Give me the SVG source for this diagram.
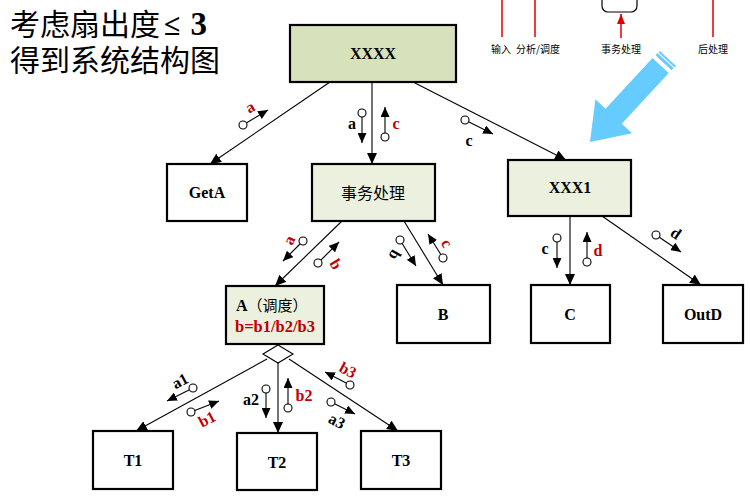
<svg xmlns="http://www.w3.org/2000/svg" width="750" height="497" viewBox="0 0 750 497">
<style>
.box{stroke:#000;stroke-width:2.2}
.w{fill:#fff}
.g1{fill:#d7e2bd}
.g2{fill:#ebf1de}
.nt{font-family:"Liberation Serif",serif;font-weight:bold;font-size:16px;text-anchor:middle;fill:#000}
.cj{font-family:"Noto Sans CJK SC",sans-serif;font-size:16px;text-anchor:middle;fill:#000}
.con{stroke:#000;stroke-width:1.1;fill:none;marker-end:url(#ah)}
.ann{stroke:#000;stroke-width:1.1;fill:none;marker-end:url(#sa)}
.cir{fill:#fff;stroke:#000;stroke-width:1.1}
.lb{font-family:"Liberation Serif",serif;font-weight:bold;font-size:16px;text-anchor:middle;dominant-baseline:central}
.r{fill:#c00000}
.k{fill:#000}
.top{font-family:"Noto Sans CJK SC",sans-serif;font-size:10px;text-anchor:middle;fill:#000}
</style>
<defs>
<marker id="ah" markerUnits="userSpaceOnUse" markerWidth="12" markerHeight="10" refX="11" refY="5" orient="auto"><path d="M0,0 L11,5 L0,10 z" fill="#000"/></marker>
<marker id="sa" markerUnits="userSpaceOnUse" markerWidth="11" markerHeight="9" refX="10" refY="4.5" orient="auto"><path d="M0,0 L10,4.5 L0,9 z" fill="#000"/></marker>
<marker id="ra" markerUnits="userSpaceOnUse" markerWidth="8" markerHeight="10" refX="4" refY="0" orient="0"><path d="M0,10 L4,0 L8,10 z" fill="#e00000"/></marker>
</defs>

<g id="title">
<text x="10" y="35" font-family="Noto Sans CJK SC,sans-serif" font-size="30" fill="#000">考虑扇出度<tspan font-family="Liberation Serif,serif" font-weight="bold" dx="4">≤</tspan><tspan font-family="Liberation Serif,serif" font-weight="bold" font-size="33" dx="10">3</tspan></text>
<text x="10" y="71" font-family="Noto Sans CJK SC,sans-serif" font-size="30" fill="#000">得到系统结构图</text>
</g>

<g id="top-flow">
<line x1="502" y1="0" x2="502" y2="37" stroke="#e00000" stroke-width="1.5"/>
<line x1="535" y1="0" x2="535" y2="37" stroke="#e00000" stroke-width="1.5"/>
<line x1="713" y1="0" x2="713" y2="37" stroke="#e00000" stroke-width="1.5"/>
<rect x="602" y="-12" width="35" height="24" rx="6" fill="#fff" stroke="#000" stroke-width="1.2"/>
<line x1="621" y1="38" x2="621" y2="14" stroke="#e00000" stroke-width="1.5" marker-end="url(#ra)"/>
<text class="top" x="501" y="53">输入</text>
<text class="top" x="538" y="53">分析/调度</text>
<text class="top" x="621" y="53">事务处理</text>
<text class="top" x="713" y="53">后处理</text>
</g>

<g id="blue-arrow">
<polygon points="652.5,58 605.6,108.8 595.4,99.3 590,142 632.1,133.3 621.8,123.8 668.7,73" fill="#66ccff"/>
<polygon points="655.5,55.3 671.6,70.3 673.6,68.1 657.5,53.1" fill="#66ccff"/>
<polygon points="658.5,52.6 674.6,67.6 676,66.1 659.9,51.1" fill="#66ccff"/>
</g>

<g id="connectors">
<line class="con" x1="330" y1="82" x2="210" y2="164"/>
<line class="con" x1="372" y1="82" x2="372" y2="164"/>
<line class="con" x1="413" y1="82" x2="566" y2="160"/>
<line class="con" x1="342" y1="221" x2="275" y2="286"/>
<line class="con" x1="404" y1="221" x2="443" y2="285"/>
<line class="con" x1="570" y1="216" x2="570" y2="285"/>
<line class="con" x1="602" y1="216" x2="701" y2="285"/>
<line class="con" x1="267" y1="359" x2="136" y2="431"/>
<line class="con" x1="278" y1="363" x2="278" y2="433"/>
<line class="con" x1="289" y1="359" x2="398" y2="431"/>
</g>

<g id="annotations">
<line class="ann" x1="243" y1="125" x2="268" y2="110"/><circle class="cir" cx="243" cy="125" r="4"/>
<text class="lb r" transform="translate(250,107) rotate(-30)">a</text>
<line class="ann" x1="362" y1="113" x2="362" y2="143"/><circle class="cir" cx="362" cy="113" r="4"/>
<text class="lb k" x="352" y="123">a</text>
<line class="ann" x1="385" y1="137" x2="385" y2="107"/><circle class="cir" cx="385" cy="137" r="4"/>
<text class="lb r" x="396" y="123">c</text>
<line class="ann" x1="465" y1="120" x2="493" y2="134"/><circle class="cir" cx="465" cy="120" r="4"/>
<text class="lb k" x="469" y="140">c</text>

<line class="ann" x1="303" y1="241" x2="283" y2="261"/><circle class="cir" cx="303" cy="241" r="4"/>
<text class="lb r" transform="translate(289,240) rotate(-65)">a</text>
<line class="ann" x1="318" y1="263" x2="339" y2="242"/><circle class="cir" cx="318" cy="263" r="4"/>
<text class="lb r" transform="translate(336,264) rotate(60)">b</text>
<line class="ann" x1="400" y1="240" x2="416" y2="266"/><circle class="cir" cx="400" cy="240" r="4"/>
<text class="lb k" transform="translate(395,255) rotate(120)">b</text>
<line class="ann" x1="443" y1="258" x2="428" y2="234"/><circle class="cir" cx="443" cy="258" r="4"/>
<text class="lb r" transform="translate(447,243) rotate(60)">c</text>

<line class="ann" x1="557" y1="238" x2="557" y2="268"/><circle class="cir" cx="557" cy="238" r="4"/>
<text class="lb k" x="545" y="248">c</text>
<line class="ann" x1="587" y1="262" x2="587" y2="232"/><circle class="cir" cx="587" cy="262" r="4"/>
<text class="lb r" x="598" y="250">d</text>
<line class="ann" x1="656" y1="235" x2="681" y2="252"/><circle class="cir" cx="656" cy="235" r="4"/>
<text class="lb k" transform="translate(676,233) rotate(35)">d</text>

<line class="ann" x1="193" y1="388" x2="167" y2="401"/><circle class="cir" cx="193" cy="388" r="4"/>
<text class="lb k" transform="translate(180,381) rotate(-28)">a1</text>
<line class="ann" x1="191" y1="412" x2="219" y2="401"/><circle class="cir" cx="191" cy="412" r="4"/>
<text class="lb r" transform="translate(207,419) rotate(-28)">b1</text>
<line class="ann" x1="266" y1="389" x2="266" y2="418"/><circle class="cir" cx="266" cy="389" r="4"/>
<text class="lb k" x="251" y="399">a2</text>
<line class="ann" x1="288" y1="408" x2="288" y2="378"/><circle class="cir" cx="288" cy="408" r="4"/>
<text class="lb r" x="304" y="395">b2</text>
<line class="ann" x1="350" y1="385" x2="325" y2="372"/><circle class="cir" cx="350" cy="385" r="4"/>
<text class="lb r" transform="translate(348,370) rotate(28)">b3</text>
<line class="ann" x1="331" y1="402" x2="355" y2="414"/><circle class="cir" cx="331" cy="402" r="4"/>
<text class="lb k" transform="translate(337,421) rotate(28)">a3</text>
</g>

<g id="XXXX"><rect class="box g1" x="290" y="25" width="166" height="57"/><text class="nt" x="373" y="59" font-size="17">XXXX</text></g>
<g id="GetA"><rect class="box w" x="167" y="164" width="80" height="57"/><text class="nt" x="207" y="198">GetA</text></g>
<g id="shiwu"><rect class="box g2" x="312" y="164" width="123" height="57"/><text class="cj" x="373" y="199" font-size="17">事务处理</text></g>
<g id="XXX1"><rect class="box g2" x="508" y="160" width="123" height="56"/><text class="nt" x="570" y="193" font-size="17">XXX1</text></g>
<g id="A"><rect class="box g2" x="226" y="286" width="98" height="58"/>
<text x="236" y="311" font-family="Liberation Serif,Noto Sans CJK SC,serif" font-size="16" fill="#000"><tspan font-weight="bold">A</tspan><tspan font-family="Noto Sans CJK SC,sans-serif" font-size="15">（调度）</tspan></text>
<text x="235" y="332" font-family="Liberation Serif,serif" font-weight="bold" font-size="16.5" fill="#c00000">b=b1/b2/b3</text></g>
<g id="diamond"><polygon points="278,345 293,354 278,363 263,354" fill="#fff" stroke="#000" stroke-width="1.1"/></g>
<g id="B"><rect class="box w" x="397" y="285" width="93" height="58"/><text class="nt" x="443" y="320">B</text></g>
<g id="C"><rect class="box w" x="531" y="285" width="79" height="58"/><text class="nt" x="570" y="320">C</text></g>
<g id="OutD"><rect class="box w" x="663" y="285" width="80" height="58"/><text class="nt" x="703" y="320">OutD</text></g>
<g id="T1"><rect class="box w" x="93" y="431" width="80" height="58"/><text class="nt" x="133" y="466">T1</text></g>
<g id="T2"><rect class="box w" x="237" y="433" width="80" height="57"/><text class="nt" x="277" y="468">T2</text></g>
<g id="T3"><rect class="box w" x="361" y="431" width="80" height="58"/><text class="nt" x="401" y="466">T3</text></g>
</svg>
